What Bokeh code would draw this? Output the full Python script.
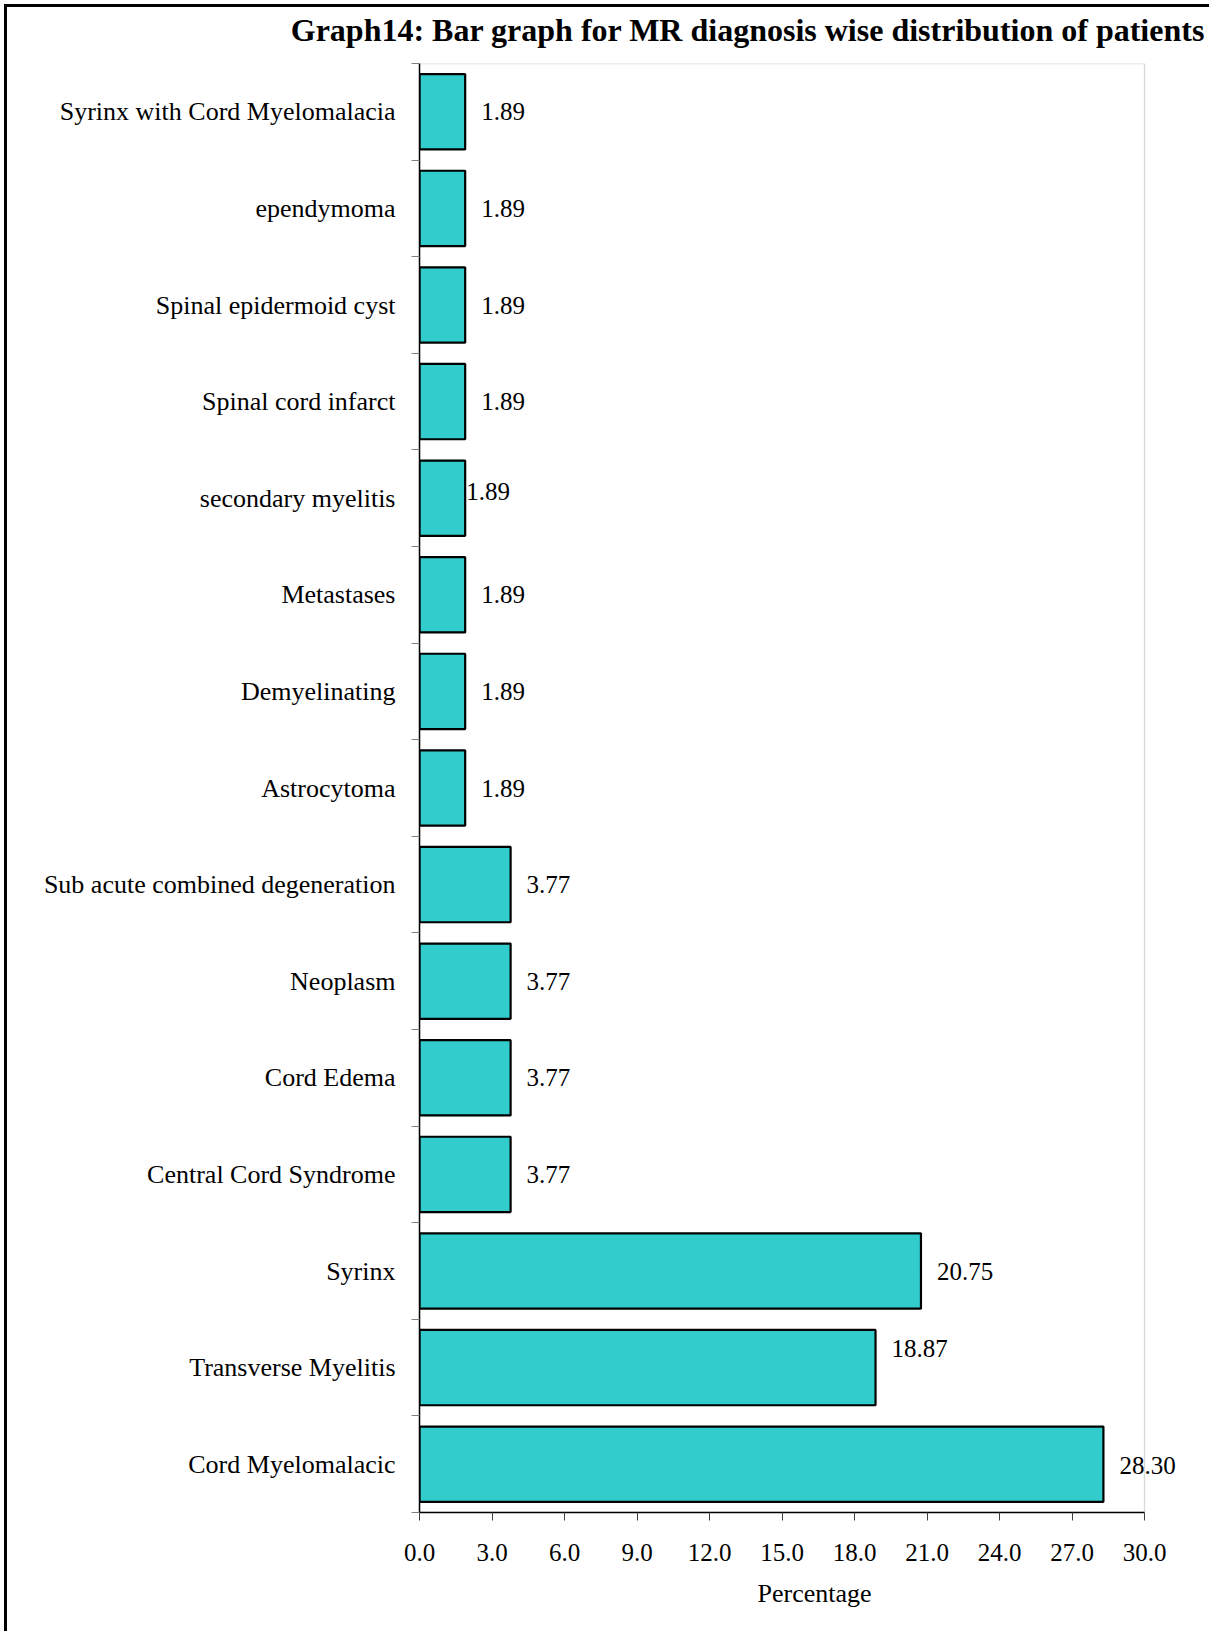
from bokeh.plotting import figure
from bokeh.layouts import column
from bokeh.models import (Range1d, FixedTicker, NumeralTickFormatter, Title,
                          ColumnDataSource, BoxAnnotation)
from bokeh.core.properties import value
from bokeh.embed import file_html
from bokeh.resources import INLINE

# ---- data (top to bottom as in the chart) ----
categories = [
    "Syrinx with Cord Myelomalacia",
    "ependymoma",
    "Spinal epidermoid cyst",
    "Spinal cord infarct",
    "secondary myelitis",
    "Metastases",
    "Demyelinating",
    "Astrocytoma",
    "Sub acute combined degeneration",
    "Neoplasm",
    "Cord Edema",
    "Central Cord Syndrome",
    "Syrinx",
    "Transverse Myelitis",
    "Cord Myelomalacic",
]
percentages = [1.89, 1.89, 1.89, 1.89, 1.89, 1.89, 1.89, 1.89,
               3.77, 3.77, 3.77, 3.77, 20.75, 18.87, 28.30]
x_ticks = [0, 3, 6, 9, 12, 15, 18, 21, 24, 27, 30]
x_max = 30

title_text = "Graph14: Bar graph for MR diagnosis wise distribution of patients"
x_title = "Percentage"

# ---- label placement styling (pixels) ----
label_dx = [16, 16, 16, 16, 1, 16, 16, 16, 16, 16, 16, 16, 16, 16, 16]
label_dy = [0, 0, 0, 0, -7, 0, 0, 0, 0, 0, 0, 0, 0, -19, 1]

FONT = "Liberation Serif"
n = len(categories)
ypos = [n - i - 0.5 for i in range(n)]

src = ColumnDataSource(dict(
    y=ypos,
    v=percentages,
    lab=["%.2f" % v for v in percentages],
    dx=label_dx,
    dy=label_dy,
))

W = 1202
TITLE_H = 54
H = 1570
LEFT, TOP, BOTTOM = 412, 2, 119
AXIS_PX = 725  # pixel length of the 0..30 axis
frame_w = W - LEFT

# ---- title strip ----
tfig = figure(width=W, height=TITLE_H, title=title_text,
              output_backend="svg", toolbar_location=None,
              x_axis_type=None, y_axis_type=None,
              min_border_left=LEFT, min_border_right=0, min_border_top=0, min_border_bottom=0)
tfig.outline_line_color = None
tfig.xgrid.visible = False
tfig.ygrid.visible = False
tfig.background_fill_color = "white"
tfig.border_fill_color = "white"
tfig.title.align = "right"
tfig.title.offset = 4
tfig.title.standoff = 4
tfig.title.vertical_align = "bottom"
tfig.title.text_font = FONT
tfig.title.text_font_size = "32px"
tfig.title.text_font_style = "bold"
tfig.title.text_color = "black"

# ---- main chart ----
p = figure(
    width=W, height=H,
    x_range=Range1d(0, x_max * frame_w / AXIS_PX), y_range=Range1d(0, n),
    output_backend="svg", toolbar_location=None,
    min_border_left=LEFT, min_border_right=0,
    min_border_top=TOP, min_border_bottom=BOTTOM,
)
p.background_fill_color = "white"
p.border_fill_color = "white"
p.outline_line_color = None
p.xgrid.visible = False
p.ygrid.visible = False

# plot-area frame (grey top/right edges)
p.add_layout(BoxAnnotation(left=0, right=x_max, bottom=0, top=n,
                           fill_alpha=0, line_color="#7f7f7f", line_width=1.3,
                           level="underlay"))

p.hbar(y="y", right="v", left=0, height=0.78, source=src,
       fill_color="#33CCCC", line_color="black", line_width=2.2)

p.text(x="v", y="y", text="lab", x_offset="dx", y_offset="dy", source=src,
       text_font=value(FONT), text_font_size="25px", text_color="black",
       text_baseline="middle", text_align="left")

# x axis
xa = p.xaxis[0]
xa.bounds = (0, x_max)
xa.ticker = FixedTicker(ticks=x_ticks, minor_ticks=[])
xa.formatter = NumeralTickFormatter(format="0.0")
xa.axis_line_color = "black"
xa.axis_line_width = 1.5
xa.major_tick_out = 8
xa.major_tick_in = 0
xa.major_tick_line_color = "#404040"
xa.major_label_standoff = 23
xa.major_label_text_font = FONT
xa.major_label_text_font_size = "25px"
xa.major_label_text_color = "black"

# y axis
ya = p.yaxis[0]
ya.ticker = FixedTicker(ticks=ypos, minor_ticks=list(range(0, n + 1)))
ya.major_label_overrides = {yv: c for yv, c in zip(ypos, categories)}
ya.axis_line_color = "black"
ya.axis_line_width = 1.5
ya.major_tick_out = 0
ya.major_tick_in = 0
ya.major_tick_line_color = None
ya.minor_tick_out = 8
ya.minor_tick_in = 0
ya.minor_tick_line_color = "#808080"
ya.major_label_standoff = 16
ya.major_label_text_font = FONT
ya.major_label_text_font_size = "26px"
ya.major_label_text_color = "black"

# x-axis title
p.add_layout(Title(text=x_title, align="left", offset=338, standoff=26,
                   text_font=FONT, text_font_size="26px",
                   text_font_style="normal", text_color="black"), "below")

layout = column(tfig, p, spacing=0, styles={
    "margin-left": "7px", "margin-top": "7px", "vertical-align": "top",
    "box-shadow": "-3px 0 0 0 #000000, 0 -3px 0 0 #000000, -3px -3px 0 0 #000000",
})

open("out.html", "w").write(file_html(layout, INLINE))
